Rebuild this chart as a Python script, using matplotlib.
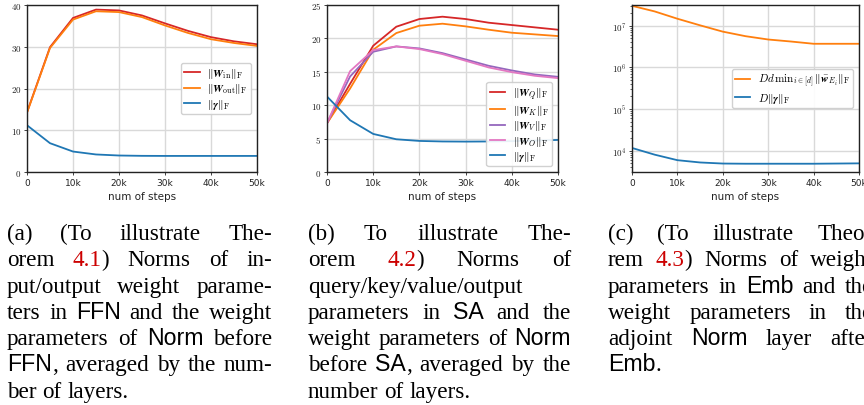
import math
import matplotlib
matplotlib.use("Agg")
import matplotlib.pyplot as plt
from matplotlib.ticker import FuncFormatter, LogLocator, NullFormatter

plt.rcParams["mathtext.fontset"] = "cm"
plt.rcParams["font.family"] = "DejaVu Sans"

# data

steps = [0, 5000, 10000, 15000, 20000, 25000, 30000, 35000, 40000, 45000, 50000]

# (a) FFN
ffn_w_in = [14.3, 29.9, 36.9, 38.9, 38.7, 37.5, 35.6, 33.8, 32.3, 31.3, 30.6]
ffn_w_out = [14.2, 29.7, 36.5, 38.5, 38.3, 37.1, 35.1, 33.3, 31.8, 30.9, 30.2]
ffn_gamma = [11.2, 6.9, 4.9, 4.2, 3.95, 3.87, 3.85, 3.85, 3.85, 3.85, 3.85]

# (b) SA
sa_w_q = [7.3, 13.2, 18.9, 21.75, 22.9, 23.25, 22.9, 22.35, 22.0, 21.65, 21.3]
sa_w_k = [7.3, 12.5, 18.3, 20.8, 21.9, 22.2, 21.8, 21.3, 20.85, 20.6, 20.35]
sa_w_v = [7.3, 14.3, 18.0, 18.8, 18.5, 17.8, 16.85, 15.9, 15.2, 14.6, 14.25]
sa_w_o = [7.3, 15.1, 18.25, 18.8, 18.4, 17.65, 16.65, 15.65, 14.95, 14.4, 14.05]
sa_gamma = [11.3, 7.75, 5.7, 4.9, 4.65, 4.57, 4.55, 4.57, 4.62, 4.7, 4.8]

# (c) Emb
emb_w = [3.0e7, 2.2e7, 1.47e7, 1.02e7, 7.2e6, 5.6e6, 4.66e6, 4.17e6, 3.68e6, 3.68e6, 3.68e6]
emb_gamma = [1.16e4, 8.0e3, 5.9e3, 5.2e3, 4.9e3, 4.85e3, 4.85e3, 4.85e3, 4.85e3, 4.9e3, 4.95e3]

x_ticks = [0, 10000, 20000, 30000, 40000, 50000]
x_tick_labels = ["0", "10k", "20k", "30k", "40k", "50k"]

# captions: *...* = sans font, #...# = red reference
caption_a = [
    "(a) (To illustrate The-",
    "orem #4.1#) Norms of in-",
    "put/output weight parame-",
    "ters in *FFN* and the weight",
    "parameters of *Norm* before",
    "*FFN*, averaged by the num-",
    "ber of layers.",
]
caption_b = [
    "(b) To illustrate The-",
    "orem #4.2#) Norms of",
    "query/key/value/output",
    "parameters in *SA* and the",
    "weight parameters of *Norm*",
    "before *SA*, averaged by the",
    "number of layers.",
]
caption_c = [
    "(c) (To illustrate Theo-",
    "rem #4.3#) Norms of weight",
    "parameters in *Emb* and the",
    "weight parameters in the",
    "adjoint *Norm* layer after",
    "*Emb*.",
]

W, H = 864, 406
fig = plt.figure(figsize=(W / 100, H / 100), dpi=100)


def px_axes(x0, x1, y0, y1):
    return fig.add_axes([x0 / W, 1 - y1 / H, (x1 - x0) / W, (y1 - y0) / H])


def style(ax):
    ax.grid(True, color="#d9d9d9", lw=1.0)
    ax.set_axisbelow(True)
    for s in ax.spines.values():
        s.set_color("#222222")
        s.set_linewidth(1.0)
    ax.set_xlim(0, 50000)
    ax.set_xticks(x_ticks, x_tick_labels)
    ax.tick_params(labelsize=6.5, length=2, width=0.6, pad=2, colors="#222222")
    ax.set_xlabel("num of steps", fontsize=7.5, labelpad=3, color="#222222")


leg_kw = dict(fontsize=8, handlelength=1.4, borderpad=0.3, labelspacing=0.12,
              handletextpad=0.7, edgecolor="#cccccc", framealpha=0.9)
lw = 1.3

# (a)
ax1 = px_axes(27, 257, 6, 173)
ax1.plot(steps, ffn_w_in, color="#d62728", lw=lw, label=r"$\|\boldsymbol{W}_{\mathrm{in}}\|_{\mathrm{F}}$")
ax1.plot(steps, ffn_w_out, color="#ff7f0e", lw=lw, label=r"$\|\boldsymbol{W}_{\mathrm{out}}\|_{\mathrm{F}}$")
ax1.plot(steps, ffn_gamma, color="#1f77b4", lw=lw, label=r"$\|\boldsymbol{\gamma}\|_{\mathrm{F}}$")
style(ax1)
ax1.set_ylim(0, 40)
ax1.set_yticks([0, 10, 20, 30, 40])
ax1.yaxis.set_major_formatter(FuncFormatter(lambda v, p: r"$%g$" % v))
ax1.legend(loc="center right", **leg_kw)

# (b)
ax2 = px_axes(327, 558, 6, 173)
ax2.plot(steps, sa_w_q, color="#d62728", lw=lw, label=r"$\|\boldsymbol{W}_{Q}\|_{\mathrm{F}}$")
ax2.plot(steps, sa_w_k, color="#ff7f0e", lw=lw, label=r"$\|\boldsymbol{W}_{K}\|_{\mathrm{F}}$")
ax2.plot(steps, sa_w_v, color="#9467bd", lw=lw, label=r"$\|\boldsymbol{W}_{V}\|_{\mathrm{F}}$")
ax2.plot(steps, sa_w_o, color="#e377c2", lw=lw, label=r"$\|\boldsymbol{W}_{O}\|_{\mathrm{F}}$")
ax2.plot(steps, sa_gamma, color="#1f77b4", lw=lw, label=r"$\|\boldsymbol{\gamma}\|_{\mathrm{F}}$")
style(ax2)
ax2.set_ylim(0, 25)
ax2.set_yticks([0, 5, 10, 15, 20, 25])
ax2.yaxis.set_major_formatter(FuncFormatter(lambda v, p: r"$%g$" % v))
ax2.legend(loc="lower right", **leg_kw)

# (c)
ax3 = px_axes(632, 859, 6, 173)
ax3.plot(steps, emb_w, color="#ff7f0e", lw=lw,
         label=r"$Dd\,\mathrm{min}_{i\in[d]}\,\|\bar{\boldsymbol{w}}_{E_i}\|_{\mathrm{F}}$")
ax3.plot(steps, emb_gamma, color="#1f77b4", lw=lw, label=r"$D\|\boldsymbol{\gamma}\|_{\mathrm{F}}$")
style(ax3)
ax3.set_yscale("log")
ax3.set_ylim(3.07e3, 3.14e7)
ax3.yaxis.set_major_locator(LogLocator(base=10))
ax3.yaxis.set_minor_formatter(NullFormatter())
ax3.yaxis.set_major_formatter(FuncFormatter(lambda v, p: r"$10^{%d}$" % round(math.log10(v))))
ax3.tick_params(which="minor", length=1.5, width=0.5, colors="#222222")
ax3.legend(loc="center right", **leg_kw)

# captions, justified
cap_fs = 16.7
renderer = fig.canvas.get_renderer()
fonts = {"serif": ("Liberation Serif", "black"),
         "sans": ("Liberation Sans", "black"),
         "ref": ("Liberation Serif", "#cc0000")}


def parse_word(word):
    segs, cur, style_ = [], "", "serif"
    for ch in word:
        if ch in "*#":
            if cur:
                segs.append((cur, style_))
            cur = ""
            new = "sans" if ch == "*" else "ref"
            style_ = "serif" if style_ == new else new
        else:
            cur += ch
    if cur:
        segs.append((cur, style_))
    return segs


def seg_width(text, st):
    fam, col = fonts[st]
    t = fig.text(0, 0, text, fontfamily=fam, fontsize=cap_fs)
    w = t.get_window_extent(renderer).width
    t.remove()
    return w


def draw_caption(lines, x0, width, y_base, dy):
    space = 0.25 * cap_fs * 100 / 72
    for i, line in enumerate(lines):
        words = [parse_word(w) for w in line.split(" ")]
        widths = [[seg_width(s, st) for s, st in w] for w in words]
        totals = [sum(w) for w in widths]
        last = i == len(lines) - 1
        if last or len(words) == 1:
            gap = space
        else:
            gap = (width - sum(totals)) / (len(words) - 1)
        x = x0
        y = y_base + i * dy
        for w, ws, tot in zip(words, widths, totals):
            xs = x
            for (s, st), sw in zip(w, ws):
                fam, col = fonts[st]
                fig.text(xs / W, 1 - y / H, s, fontfamily=fam, fontsize=cap_fs,
                         color=col, va="baseline", ha="left")
                xs += sw
            x += tot + gap


draw_caption(caption_a, 7, 265, 240, 26.3)
draw_caption(caption_b, 308, 263, 240, 26.3)
draw_caption(caption_c, 608, 265, 240, 26.3)

fig.savefig("out.png", dpi=100)
